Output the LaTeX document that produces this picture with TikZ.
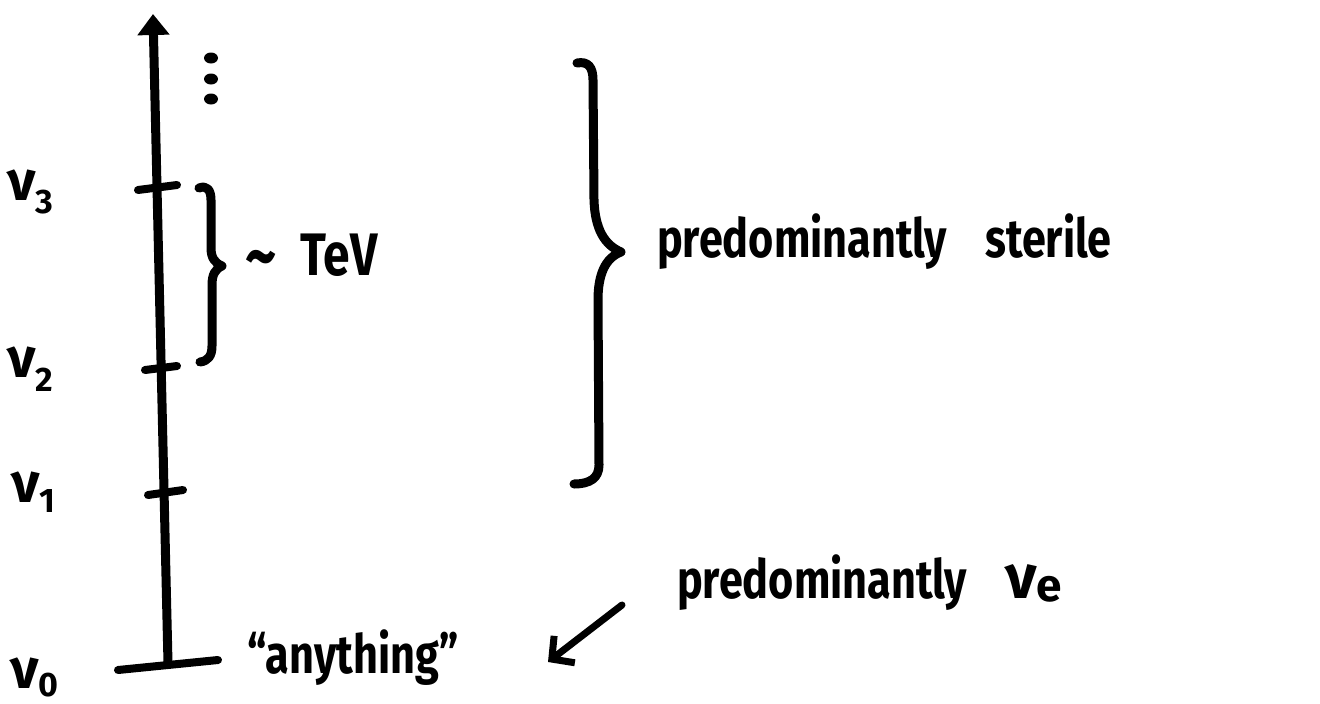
\documentclass[tikz,border=0pt]{standalone}
\usepackage{fontspec}
\setmainfont{Fira Sans}[FakeStretch=0.8]
\newfontfamily\handwide{Fira Sans}
\usetikzlibrary{arrows.meta}
\begin{document}
\begin{tikzpicture}[x=1pt,y=-1pt,
  ink/.style={line width=#1, line cap=round, line join=round},
  ink/.default=9pt,
  hand/.style={inner sep=0pt, font=\bfseries\fontsize{#1}{#1}\selectfont},
  lvl/.style={inner sep=0pt, anchor=base west, font=\handwide\bfseries\fontsize{56}{56}\selectfont},
  dotmark/.style={fill=black}]
\useasboundingbox (0,0) rectangle (1320,704);
\fill[white] (0,0) rectangle (1320,704);

% axis
\coordinate (top) at (153,14);
\coordinate (bot) at (168,663);
\draw[ink, -{Triangle[width=31pt,length=21pt]}] (bot) -- (top);

% ticks
\coordinate (t3a) at (138,190); \coordinate (t3b) at (177,185);
\coordinate (t2a) at (145,370); \coordinate (t2b) at (177,366);
\coordinate (t1a) at (148,495); \coordinate (t1b) at (183,490);
\coordinate (t0a) at (118,670); \coordinate (t0b) at (218,660);
\draw[ink=8pt] (t3a) -- (t3b);
\draw[ink=8pt] (t2a) -- (t2b);
\draw[ink=8pt] (t1a) -- (t1b);
\draw[ink=8pt] (t0a) -- (t0b);

% dots
\fill[dotmark] (211,58) ellipse (7 and 5.5);
\fill[dotmark] (211,79) ellipse (7 and 5.5);
\fill[dotmark] (211,99) ellipse (7 and 5.5);

% level labels
\node[lvl] (nu3) at (7,200) {ν\raisebox{-13pt}{\fontsize{34}{34}\selectfont 3}};
\node[lvl] (nu2) at (7,377) {ν\raisebox{-14pt}{\fontsize{34}{34}\selectfont 2}};
\node[lvl] (nu1) at (11,502) {ν\raisebox{-10pt}{\fontsize{34}{34}\selectfont 1}};
\node[lvl] (nu0) at (10,688) {ν\raisebox{-8pt}{\fontsize{34}{34}\selectfont 0}};

% small brace
\draw[ink=9pt] (199,188) .. controls (207,185) and (211,190) .. (211,200)
  -- (211,248) .. controls (211,258) and (215,263) .. (222,266)
  .. controls (215,269) and (212,275) .. (212,285)
  -- (212,346) .. controls (212,356) and (208,361) .. (200,362);
\node[hand=60, anchor=base west] (tev) at (245,275) {\raisebox{-6pt}{\fontsize{76}{76}\selectfont\textasciitilde}\hspace{24pt}TeV};

% big brace
\draw[ink=9pt] (577,63) .. controls (588,61) and (593,67) .. (593,80)
  -- (594,200) .. controls (595,230) and (605,245) .. (621,252)
  .. controls (605,258) and (598,275) .. (598,300)
  -- (599,465) .. controls (599,478) and (590,484) .. (574,484);
\node[hand=54, anchor=base west] (ster) at (657,257) {predominantly\hspace{38pt}sterile};

% lower labels
\node[hand=54, anchor=base west] (pre) at (677,598) {predominantly};
\node[anchor=base west, inner sep=0pt, font=\handwide\bfseries\fontsize{62}{62}\selectfont] (nue) at (1005,598) {ν\raisebox{-3pt}{\fontsize{46}{46}\selectfont e}};
\node[hand=54, anchor=base west] (any) at (247,673) {“anything”};

% arrow
\coordinate (atail) at (622,605);
\coordinate (ahead) at (548,662);
\draw[ink=7pt, -{Straight Barb[length=16pt,width=34pt]}] (atail) -- (ahead);
\end{tikzpicture}
\end{document}
